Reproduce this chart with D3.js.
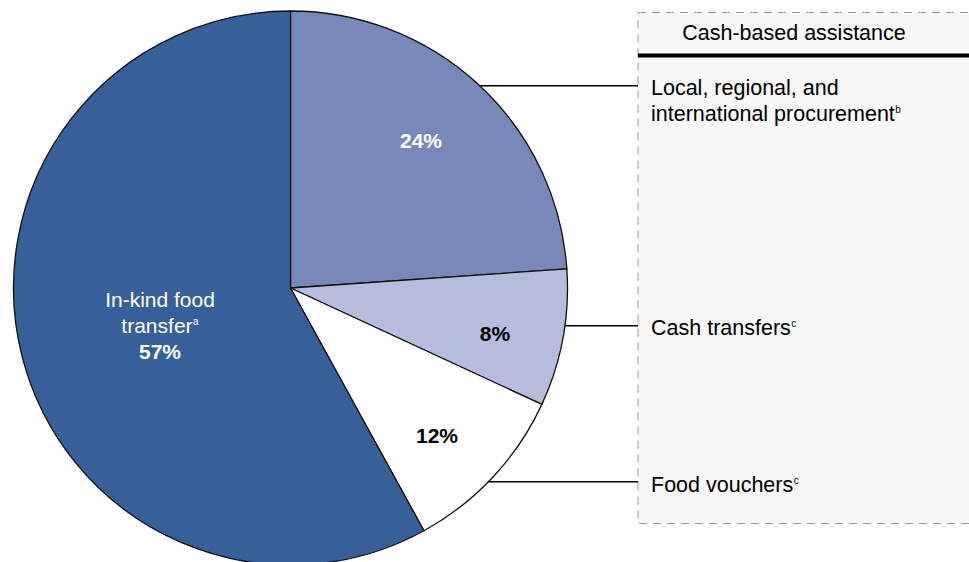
<!DOCTYPE html>
<html>
<head>
<meta charset="utf-8">
<script src="https://cdn.jsdelivr.net/npm/d3@7"></script>
<style>
  body { margin: 0; background: #fff; }
  svg { display: block; font-family: "Liberation Sans", Arial, sans-serif; }
</style>
</head>
<body>
<div class="chart"></div>
<script>
// slice shares as drawn (measured from the wedge angles), and the printed labels
var categories = ["Local, regional, and international procurement", "Cash transfers", "Food vouchers", "In-kind food transfer"];
var shares = [23.9, 8.0, 10.1, 58.0];
var pctLabels = ["24%", "8%", "12%", "57%"];
var sliceColors = ["#7889b9", "#b8bcdc", "#ffffff", "#375f99"];

// legend box entries (cash-based assistance), with footnote letters
var legendTitle = "Cash-based assistance";
var legendLines = [
  [["Local, regional, and", ""], ["international procurement", "b"]],
  [["Cash transfers", "c"]],
  [["Food vouchers", "c"]]
];
var legendLineY = [85.7, 325.7, 481.7];

var svgWidth = 969;
var svgHeight = 562;

var cx = 290.5, cy = 288, radius = 277;
var legendFont = "21.5px";
var pieFont = "21px";

var svg = d3.select(".chart")
  .append("svg")
  .attr("width", svgWidth)
  .attr("height", svgHeight);

/* Legend box */
var boxX = 638, boxY = 12.5, boxBottom = 523.5;
svg.append("rect")
  .attr("x", boxX)
  .attr("y", boxY)
  .attr("width", svgWidth - boxX + 20)
  .attr("height", boxBottom - boxY)
  .attr("fill", "#f7f7f7")
  .attr("stroke", "#999")
  .attr("stroke-width", 1)
  .attr("stroke-dasharray", "8,6");

svg.append("text")
  .attr("x", 794)
  .attr("y", 40)
  .attr("text-anchor", "middle")
  .attr("font-size", legendFont)
  .attr("fill", "#000")
  .text(legendTitle);

svg.append("line")
  .attr("x1", boxX)
  .attr("x2", svgWidth)
  .attr("y1", 55.5)
  .attr("y2", 55.5)
  .attr("stroke", "#000")
  .attr("stroke-width", 4);

/* Pie */
var pie = d3.pie().sort(null).value(d => d);
var arc = d3.arc().innerRadius(0).outerRadius(radius);
var arcs = pie(shares);

var pieGroup = svg.append("g")
  .attr("transform", `translate(${cx}, ${cy})`);

pieGroup.selectAll("path")
  .data(arcs)
  .enter()
  .append("path")
  .attr("d", arc)
  .attr("fill", (d, i) => sliceColors[i])
  .attr("stroke", "#111")
  .attr("stroke-width", 1.3)
  .attr("stroke-linejoin", "round");

/* Leader lines from rim to legend box */
legendLineY.forEach(function(y) {
  var dy = y - cy;
  var x0 = cx + Math.sqrt(radius * radius - dy * dy);
  svg.append("line")
    .attr("x1", x0)
    .attr("x2", boxX)
    .attr("y1", y)
    .attr("y2", y)
    .attr("stroke", "#000")
    .attr("stroke-width", 1.5);
});

/* Legend entries */
var entryBaseY = [95, 335, 492];
legendLines.forEach(function(lines, i) {
  lines.forEach(function(ln, j) {
    var t = svg.append("text")
      .attr("x", 651)
      .attr("y", entryBaseY[i] + j * 25.5)
      .attr("font-size", legendFont)
      .attr("fill", "#000");
    t.append("tspan").text(ln[0]);
    if (ln[1]) {
      t.append("tspan")
        .attr("font-size", "10px")
        .attr("dx", 0.5)
        .attr("dy", -8)
        .text(ln[1]);
    }
  });
});

/* Percent labels in slices */
var pctPos = [[421, 140], [495, 333], [437, 435]];
pctLabels.slice(0, 3).forEach(function(lbl, i) {
  svg.append("text")
    .attr("x", pctPos[i][0])
    .attr("y", pctPos[i][1] + 7.5)
    .attr("text-anchor", "middle")
    .attr("font-size", pieFont)
    .attr("font-weight", "bold")
    .attr("fill", i === 0 ? "#fff" : "#000")
    .text(lbl);
});

// in-kind label, three lines in the big slice
var inKind = svg.append("g").attr("fill", "#fff").attr("text-anchor", "middle").attr("font-size", pieFont);
inKind.append("text").attr("x", 160).attr("y", 307).text("In-kind food");
var tr = inKind.append("text").attr("x", 160).attr("y", 333);
tr.append("tspan").text("transfer");
tr.append("tspan").attr("font-size", "10px").attr("dx", 0.5).attr("dy", -8).text("a");
inKind.append("text").attr("x", 160).attr("y", 359).attr("font-weight", "bold").text(pctLabels[3]);
</script>
</body>
</html>
